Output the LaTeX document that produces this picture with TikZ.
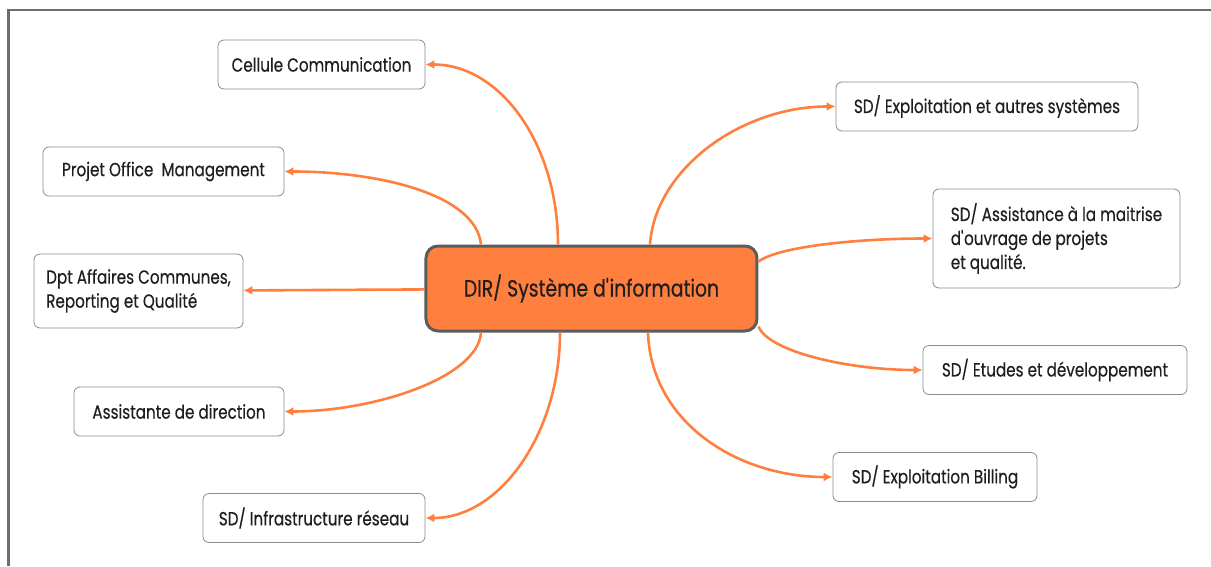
\documentclass[tikz,border=0pt]{standalone}
\usepackage{fontspec}
\setmainfont[FakeStretch=0.8,FakeBold=0.4]{Poppins}
\usepackage{tikz}
\usetikzlibrary{arrows.meta,positioning}
\usepackage{xcolor}
\definecolor{mapOrange}{HTML}{FF7F3F}
\definecolor{hubEdge}{HTML}{5C5C5C}
\definecolor{leafEdge}{HTML}{8C8C8C}
\definecolor{inkText}{HTML}{1E1E1E}

\begin{document}
\begin{tikzpicture}[
  font=\fontsize{19}{24}\selectfont, text=inkText,
  hub/.style={draw=hubEdge, fill=mapOrange, line width=3pt, rounded corners=12pt,
              minimum width=331pt, minimum height=85pt,
              font=\fontsize{23.5}{26}\selectfont},
  leaf/.style={draw=leafEdge, fill=white, line width=0.8pt, rounded corners=6pt,
               minimum height=49pt, inner xsep=10pt, align=left},
  link/.style={-{Latex[length=9pt,width=9pt]}, draw=mapOrange, line width=2.6pt},
  frameline/.style={draw=hubEdge!90, line width=2.5pt}
]
  \useasboundingbox (-591.5pt,288.5pt) rectangle (619.5pt,-277.5pt);
  \draw[frameline] (-583pt,-277.5pt) -- (-583pt,278.5pt) -- (619.5pt,278.5pt);

  % --- Central node ---
  \node[hub] (hub) at (0,0) {DIR/ Système d\textquotesingle information};

  % --- Left branches ---
  \node[leaf, minimum width=207pt] (cellule) at (-270pt,224pt) {Cellule Communication};
  \node[leaf, minimum width=241pt] (projet)  at (-428pt,117pt) {Projet Office~ Management};
  \node[leaf, minimum width=209pt, minimum height=74pt] (dpt) at (-453pt,-2.5pt)
        {Dpt Affaires Communes,\\Reporting et Qualité};
  \node[leaf, minimum width=210pt] (assist)  at (-412.5pt,-123pt) {Assistante de direction};
  \node[leaf, minimum width=222pt] (infra)   at (-277.5pt,-229.5pt) {SD/ Infrastructure réseau};

  % --- Right branches ---
  \node[leaf, minimum width=302pt] (exploit) at (395.5pt,182pt) {SD/ Exploitation et autres systèmes};
  \node[leaf, minimum width=247pt, minimum height=99pt] (amoa) at (465pt,50pt)
        {SD/ Assistance à la maitrise\\d\textquotesingle ouvrage de projets\\et qualité.};
  \node[leaf, minimum width=264pt] (etudes)  at (463.5pt,-81.5pt) {SD/ Etudes et développement};
  \node[leaf, minimum width=204pt] (billing) at (343.5pt,-188.5pt) {SD/ Exploitation Billing};

  % --- Connectors, left side ---
  \draw[link] ([xshift=-33.5pt]hub.north) .. controls +(0,100pt) and +(75pt,0) .. (cellule.east);
  \draw[link] ([xshift=-110.5pt]hub.north) .. controls +(-5pt,50pt) and +(95pt,0) .. (projet.east);
  \draw[link] (hub) -- (dpt);
  \draw[link] ([xshift=-110.5pt]hub.south) .. controls +(-3pt,-45pt) and +(90pt,0) .. (assist.east);
  \draw[link] ([xshift=-31.5pt]hub.south) .. controls +(0,-100pt) and +(75pt,0) .. (infra.east);

  % --- Connectors, right side ---
  \draw[link] ([xshift=58.5pt]hub.north) .. controls +(5pt,75pt) and +(-95pt,0) .. (exploit.west);
  \draw[link] ([yshift=27pt]hub.east) .. controls +(20pt,15pt) and +(-75pt,0) .. (amoa.west);
  \draw[link] ([yshift=-38pt]hub.east) .. controls +(10pt,-25pt) and +(-75pt,0) .. (etudes.west);
  \draw[link] ([xshift=56.5pt]hub.south) .. controls +(3pt,-90pt) and +(-95pt,0) .. (billing.west);
\end{tikzpicture}
\end{document}
